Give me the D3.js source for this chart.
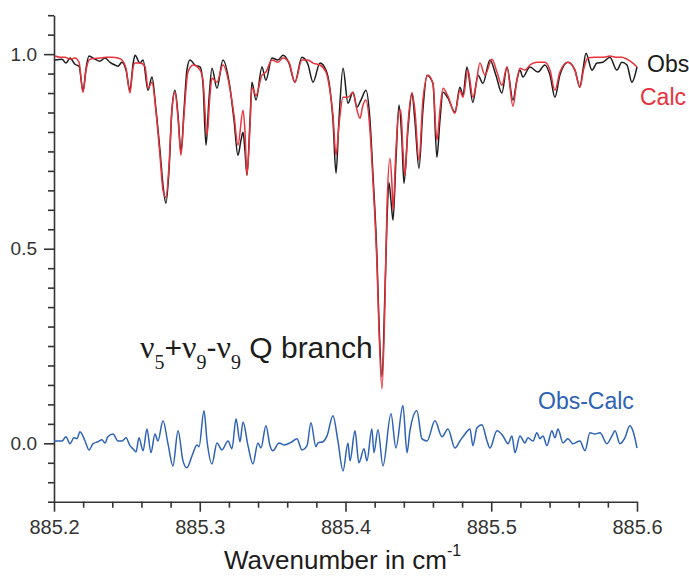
<!DOCTYPE html>
<html>
<head>
<meta charset="utf-8">
<script src="https://cdn.jsdelivr.net/npm/d3@7"></script>
<style>
  html, body { margin: 0; padding: 0; background: #fff; }
  svg { display: block; }
  text { font-family: "Liberation Sans", Arial, sans-serif; }
</style>
</head>
<body>
<svg id="chart" width="689" height="577"></svg>
<script>
// Observed transmittance spectrum
const obsWn = [885.2007,885.2055,885.2082,885.2110,885.2144,885.2172,885.2199,885.2220,885.2240,885.2281,
  885.2316,885.2350,885.2384,885.2418,885.2439,885.2466,885.2494,885.2521,885.2542,885.2556,
  885.2590,885.2611,885.2645,885.2672,885.2700,885.2727,885.2748,885.2768,885.2789,885.2809,
  885.2830,885.2851,885.2871,885.2892,885.2912,885.2933,885.2967,885.3002,885.3022,885.3043,
  885.3063,885.3084,885.3118,885.3159,885.3207,885.3235,885.3262,885.3283,885.3297,885.3310,
  885.3324,885.3345,885.3358,885.3386,885.3427,885.3454,885.3495,885.3537,885.3571,885.3612,
  885.3653,885.3701,885.3742,885.3777,885.3825,885.3866,885.3893,885.3914,885.3935,885.3955,
  885.3983,885.4017,885.4051,885.4079,885.4106,885.4140,885.4168,885.4188,885.4216,885.4230,
  885.4250,885.4271,885.4284,885.4298,885.4312,885.4326,885.4346,885.4367,885.4387,885.4401,
  885.4428,885.4456,885.4476,885.4504,885.4531,885.4559,885.4600,885.4627,885.4648,885.4669,
  885.4703,885.4751,885.4785,885.4806,885.4833,885.4874,885.4909,885.4943,885.4991,885.5032,
  885.5073,885.5108,885.5149,885.5176,885.5197,885.5217,885.5265,885.5320,885.5368,885.5403,
  885.5437,885.5471,885.5526,885.5574,885.5608,885.5629,885.5650,885.5691,885.5725,885.5766,
  885.5814,885.5862,885.5896,885.5931,885.5965,885.6000];
const obsT = [0.985,0.987,0.977,0.990,0.974,0.969,0.905,0.964,0.995,0.987,
  0.982,0.990,0.979,0.972,0.969,0.979,0.959,0.907,0.974,0.997,
  0.977,0.985,0.907,0.941,0.856,0.753,0.663,0.617,0.701,0.856,
  0.907,0.843,0.748,0.856,0.959,0.985,0.972,0.967,0.925,0.766,
  0.882,0.964,0.912,0.985,0.915,0.830,0.740,0.779,0.799,0.753,
  0.689,0.830,0.928,0.882,0.967,0.933,0.990,0.985,0.997,0.977,
  0.928,0.992,0.974,0.928,0.977,0.959,0.912,0.830,0.694,0.830,
  0.964,0.874,0.902,0.864,0.882,0.907,0.830,0.694,0.477,0.308,
  0.171,0.393,0.565,0.670,0.624,0.573,0.727,0.869,0.779,0.668,
  0.804,0.900,0.830,0.707,0.856,0.946,0.925,0.735,0.830,0.902,
  0.887,0.851,0.915,0.894,0.967,0.876,0.946,0.925,0.985,0.946,
  0.900,0.967,0.882,0.933,0.959,0.941,0.967,0.954,0.972,0.946,
  0.889,0.946,0.979,0.959,0.915,0.959,1.002,0.959,0.977,0.979,
  0.992,0.959,0.979,0.972,0.928,0.967];

// Calculated spectrum
const calcWn = [885.2007,885.2041,885.2075,885.2110,885.2144,885.2172,885.2199,885.2220,885.2247,885.2316,
  885.2357,885.2398,885.2439,885.2466,885.2494,885.2521,885.2542,885.2556,885.2590,885.2624,
  885.2645,885.2672,885.2700,885.2727,885.2748,885.2768,885.2789,885.2809,885.2830,885.2851,
  885.2871,885.2892,885.2919,885.2954,885.3002,885.3022,885.3050,885.3070,885.3084,885.3118,
  885.3159,885.3207,885.3235,885.3262,885.3297,885.3310,885.3324,885.3345,885.3358,885.3386,
  885.3427,885.3454,885.3495,885.3537,885.3571,885.3612,885.3653,885.3701,885.3742,885.3777,
  885.3825,885.3866,885.3893,885.3914,885.3935,885.3955,885.3983,885.4017,885.4051,885.4079,
  885.4099,885.4120,885.4140,885.4168,885.4188,885.4216,885.4230,885.4250,885.4271,885.4284,
  885.4305,885.4319,885.4326,885.4346,885.4367,885.4380,885.4394,885.4408,885.4428,885.4456,
  885.4476,885.4504,885.4531,885.4566,885.4600,885.4627,885.4648,885.4669,885.4703,885.4751,
  885.4785,885.4806,885.4840,885.4874,885.4895,885.4922,885.4957,885.5005,885.5039,885.5073,
  885.5108,885.5149,885.5176,885.5197,885.5231,885.5265,885.5313,885.5368,885.5403,885.5437,
  885.5471,885.5526,885.5574,885.5608,885.5636,885.5663,885.5711,885.5766,885.5814,885.5862,
  885.5896,885.5931,885.5965,885.6000];
const calcT = [0.995,0.992,0.992,0.987,0.990,0.979,0.902,0.959,0.987,0.990,
  0.992,0.992,0.990,0.985,0.964,0.900,0.964,0.977,0.977,0.969,
  0.912,0.928,0.851,0.740,0.650,0.632,0.714,0.856,0.902,0.835,
  0.740,0.843,0.954,0.972,0.959,0.933,0.792,0.894,0.938,0.928,
  0.972,0.912,0.843,0.766,0.856,0.804,0.689,0.817,0.915,0.894,
  0.946,0.954,0.985,0.979,0.990,0.979,0.928,0.985,0.985,0.977,
  0.972,0.954,0.907,0.843,0.740,0.817,0.889,0.889,0.902,0.856,
  0.835,0.869,0.882,0.804,0.676,0.457,0.290,0.140,0.367,0.599,
  0.732,0.663,0.599,0.753,0.856,0.856,0.753,0.689,0.817,0.900,
  0.856,0.727,0.882,0.946,0.925,0.779,0.856,0.912,0.892,0.848,
  0.907,0.889,0.959,0.889,0.920,0.977,0.946,0.987,0.954,0.920,
  0.967,0.866,0.933,0.964,0.959,0.972,0.979,0.979,0.959,0.907,
  0.954,0.979,0.959,0.915,0.964,0.990,0.992,0.992,0.995,0.992,
  0.992,0.987,0.979,0.967];

// Residual Obs-Calc
const resWn = [885.2000,885.2055,885.2082,885.2110,885.2137,885.2158,885.2178,885.2213,885.2240,885.2268,
  885.2302,885.2329,885.2350,885.2370,885.2405,885.2439,885.2466,885.2494,885.2521,885.2542,
  885.2563,885.2583,885.2611,885.2638,885.2665,885.2693,885.2713,885.2748,885.2782,885.2816,
  885.2851,885.2885,885.2912,885.2947,885.2981,885.2995,885.3029,885.3050,885.3084,885.3118,
  885.3152,885.3194,885.3221,885.3249,885.3276,885.3297,885.3331,885.3365,885.3399,885.3420,
  885.3454,885.3482,885.3502,885.3544,885.3578,885.3633,885.3667,885.3701,885.3736,885.3763,
  885.3797,885.3811,885.3845,885.3873,885.3914,885.3948,885.3983,885.4017,885.4031,885.4065,
  885.4092,885.4127,885.4147,885.4181,885.4195,885.4223,885.4257,885.4312,885.4346,885.4394,
  885.4422,885.4442,885.4490,885.4524,885.4559,885.4614,885.4662,885.4703,885.4751,885.4785,
  885.4820,885.4854,885.4874,885.4902,885.4936,885.4971,885.4991,885.5039,885.5080,885.5115,
  885.5142,885.5163,885.5197,885.5231,885.5252,885.5286,885.5313,885.5334,885.5355,885.5382,
  885.5416,885.5437,885.5458,885.5492,885.5526,885.5560,885.5608,885.5643,885.5677,885.5711,
  885.5746,885.5794,885.5828,885.5849,885.5883,885.5917,885.5951,885.5972,885.6000];
const resT = [0.006,0.006,0.017,-0.001,0.014,0.012,0.030,0.006,-0.017,-0.001,
  0.004,0.009,0.001,0.017,0.024,0.006,0.006,0.014,-0.006,-0.014,
  -0.022,0.014,-0.019,0.037,-0.024,0.024,0.006,0.058,-0.001,-0.058,
  0.032,-0.045,-0.063,-0.032,-0.004,-0.009,0.084,0.006,-0.053,0.001,
  -0.017,0.006,-0.014,0.063,0.004,0.055,-0.006,-0.053,0.001,-0.012,
  0.045,-0.006,-0.019,0.001,-0.004,0.004,0.012,-0.017,-0.006,0.053,
  -0.009,0.001,0.004,0.019,0.071,0.006,-0.071,0.001,-0.045,0.032,
  -0.050,-0.014,-0.045,0.037,-0.024,0.035,-0.058,0.076,-0.012,0.097,
  -0.024,0.032,0.084,0.012,0.006,0.058,0.017,0.037,-0.012,0.006,
  0.024,0.037,-0.006,0.040,0.048,0.006,-0.012,0.032,0.019,-0.001,
  0.019,-0.024,0.019,0.001,0.014,0.006,0.027,0.012,0.019,-0.006,
  0.032,0.014,0.037,0.001,0.012,-0.001,0.006,-0.019,0.027,0.024,
  0.027,-0.001,0.019,0.032,-0.001,0.014,0.045,0.032,-0.012];

// Axis ticks
const xMajorTicks = [885.2, 885.3, 885.4, 885.5, 885.6];
const yMajorTicks = [0.0, 0.5, 1.0];
const xTickLabels = ["885.2", "885.3", "885.4", "885.5", "885.6"];
const yTickLabels = ["0.0", "0.5", "1.0"];

const svg = d3.select("#chart");
const x = d3.scaleLinear().domain([885.2, 885.6]).range([54, 637]);
const y = d3.scaleLinear().domain([-0.15, 1.10]).range([501.7, 15.2]);

const axisColor = "#333";

// minor tick positions
const xMinor = d3.range(0, 21).map(i => 885.2 + i * 0.02).filter(v => !xMajorTicks.some(m => Math.abs(m - v) < 1e-6));
const yMinor = d3.range(0, 26).map(i => -0.15 + i * 0.05).filter(v => !yMajorTicks.some(m => Math.abs(m - v) < 1e-6));

// Bottom axis
const gx = svg.append("g").attr("transform", `translate(0,${y(-0.15)})`);
gx.call(d3.axisBottom(x).tickValues(xMajorTicks).tickSize(10).tickSizeOuter(0)
  .tickFormat((d, i) => xTickLabels[i]).tickPadding(8));
gx.append("g").call(d3.axisBottom(x).tickValues(xMinor).tickSize(6).tickSizeOuter(0).tickFormat(""))
  .select(".domain").remove();

// Left axis
const gy = svg.append("g").attr("transform", `translate(${x(885.2)},0)`);
gy.call(d3.axisLeft(y).tickValues(yMajorTicks).tickSize(10).tickSizeOuter(0)
  .tickFormat((d, i) => yTickLabels[i]).tickPadding(7));
gy.append("g").call(d3.axisLeft(y).tickValues(yMinor).tickSize(6).tickSizeOuter(0).tickFormat(""))
  .select(".domain").remove();

svg.selectAll(".domain, .tick line").attr("stroke", axisColor).attr("stroke-width", 1.6);
gy.selectAll(".tick text").attr("fill", "#333").style("font-size", "19px");
gx.selectAll(".tick text").attr("fill", "#333").style("font-size", "20px");

// Curves
const line = (wn, vals) => d3.line().x((d, i) => x(wn[i])).y(d => y(d)).curve(d3.curveMonotoneX)(vals);

svg.append("path").attr("d", line(resWn, resT)).attr("fill", "none")
  .attr("stroke", "#2d62b4").attr("stroke-width", 1.5);
svg.append("path").attr("d", line(obsWn, obsT)).attr("fill", "none")
  .attr("stroke", "#1c1c1c").attr("stroke-width", 1.5);
svg.append("path").attr("d", line(calcWn, calcT)).attr("fill", "none")
  .attr("stroke", "#e8323c").attr("stroke-width", 1.5);

// Legend labels
svg.append("text").attr("x", 647).attr("y", 72).attr("fill", "#1c1c1c").style("font-size", "23px").text("Obs");
svg.append("text").attr("x", 640).attr("y", 105).attr("fill", "#e8323c").style("font-size", "23px").text("Calc");
svg.append("text").attr("x", 538).attr("y", 409).attr("fill", "#2d62b4").style("font-size", "23px").text("Obs-Calc");

// Band annotation
const ann = svg.append("text").attr("x", 140).attr("y", 358).attr("fill", "#1c1c1c");
const serif = "'Liberation Serif', 'Times New Roman', serif";
const pieces = [
  { t: "ν", f: serif, s: 32, dy: 0 },
  { t: "5", f: serif, s: 20, dy: 11 },
  { t: "+", f: null, s: 30, dy: -11 },
  { t: "ν", f: serif, s: 32, dy: 0 },
  { t: "9", f: serif, s: 20, dy: 11 },
  { t: "-", f: null, s: 30, dy: -11 },
  { t: "ν", f: serif, s: 32, dy: 0 },
  { t: "9", f: serif, s: 20, dy: 11 },
  { t: "\u00a0Q branch", f: null, s: 30, dy: -11 }
];
pieces.forEach(p => {
  const ts = ann.append("tspan").attr("dy", p.dy).style("font-size", p.s + "px").text(p.t);
  if (p.f) ts.style("font-family", p.f);
});

// Axis title
const title = svg.append("text").attr("x", 224).attr("y", 569).attr("fill", "#1c1c1c").style("font-size", "26px");
title.append("tspan").text("Wavenumber in cm");
title.append("tspan").attr("dy", -13).style("font-size", "16px").text("-1");
</script>
</body>
</html>
